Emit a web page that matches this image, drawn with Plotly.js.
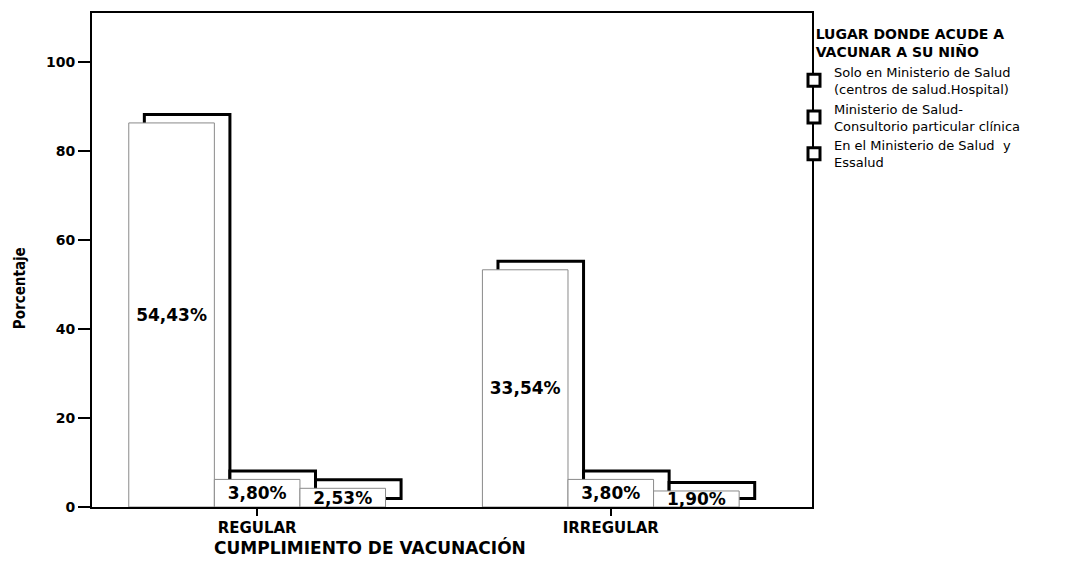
<!DOCTYPE html>
<html>
<head>
<meta charset="utf-8">
<script src="https://cdn.plot.ly/plotly-3.0.1.min.js"></script>
<style>
  html, body { margin: 0; padding: 0; background: #ffffff; }
  #chart { width: 1081px; height: 564px; }
</style>
</head>
<body>
<div id="chart"></div>
<script>
// ---- data ----
const categories = ['REGULAR', 'IRREGULAR'];
const seriesNames = [
  'Solo en Ministerio de Salud<br>(centros de salud.Hospital)',
  'Ministerio de Salud-<br>Consultorio particular clínica',
  'En el Ministerio de Salud  y<br>Essalud'
];
// bar heights (Porcentaje axis)
const soloMinsa       = [86.3, 53.3];
const minsaParticular = [6.2, 6.2];
const minsaEssalud    = [4.2, 3.6];
// percentage labels printed on the bars
const soloMinsaLabel       = [54.43, 33.54];
const minsaParticularLabel = [3.80, 3.80];
const minsaEssaludLabel    = [2.53, 1.90];
const yTicks = [0, 20, 40, 60, 80, 100];

const heights = [soloMinsa, minsaParticular, minsaEssalud];
const labels = [soloMinsaLabel, minsaParticularLabel, minsaEssaludLabel];

// ---- styling / geometry ----
const barW = 0.242;      // width of each bar in category units
const depthX = 0.044;    // 3-D depth offset (x, category units)
const depthY = 1.9;      // 3-D depth offset (y, axis units)
const boldFont = 'DejaVu Sans, Liberation Sans, Arial, sans-serif';

const traces = [];
// back (depth) faces with heavy outline
heights.forEach((h, i) => {
  traces.push({
    type: 'bar',
    x: categories,
    y: h,
    base: depthY,
    offset: -1.5 * barW + i * barW + depthX,
    width: barW,
    name: seriesNames[i],
    legendgroup: 'g' + i,
    showlegend: true,
    marker: { color: '#ffffff', line: { color: '#000000', width: 3 } },
    hoverinfo: 'skip'
  });
});
// front faces with the labels
heights.forEach((h, i) => {
  traces.push({
    type: 'bar',
    x: categories,
    y: h,
    customdata: labels[i],
    offset: -1.5 * barW + i * barW,
    width: barW,
    name: seriesNames[i],
    legendgroup: 'g' + i,
    showlegend: false,
    marker: { color: '#ffffff', line: { color: '#8a8a8a', width: 1 } },
    texttemplate: '%{customdata:.2f}%',
    textposition: 'inside',
    insidetextanchor: 'middle',
    textangle: 0,
    constraintext: 'none',
    insidetextfont: { family: boldFont, size: 17, color: '#000000', weight: 'bold' },
    hoverinfo: 'skip'
  });
});

const layout = {
  width: 1081,
  height: 564,
  paper_bgcolor: '#ffffff',
  plot_bgcolor: '#ffffff',
  separators: ',.',
  barmode: 'overlay',
  margin: { l: 92, r: 269, t: 13, b: 57, pad: 0 },
  showlegend: true,
  legend: {
    x: 0.975, xanchor: 'left',
    y: 0.985, yanchor: 'top',
    bgcolor: 'rgba(0,0,0,0)',
    traceorder: 'normal',
    tracegroupgap: 0,
    itemwidth: 30,
    font: { family: 'DejaVu Sans, Liberation Sans, Arial, sans-serif', size: 13, color: '#000000' },
    title: {
      text: 'LUGAR DONDE ACUDE A<br>VACUNAR A SU NIÑO',
      side: 'top center',
      font: { family: boldFont, size: 14, color: '#000000', weight: 'bold' }
    }
  },
  xaxis: {
    type: 'category',
    range: [-0.467, 1.569],
    showline: true, linecolor: '#000000', linewidth: 2, mirror: true,
    ticks: 'outside', ticklen: 7, tickwidth: 2, tickcolor: '#000000',
    ticklabelstandoff: -1,
    showgrid: false, zeroline: false,
    tickfont: { family: boldFont, size: 15, color: '#000000', weight: 'bold' },
    fixedrange: true
  },
  yaxis: {
    range: [0, 111],
    tickvals: yTicks,
    showline: true, linecolor: '#000000', linewidth: 2, mirror: true,
    ticks: 'outside', ticklen: 12, tickwidth: 2, tickcolor: '#000000',
    showgrid: false, zeroline: false,
    tickfont: { family: boldFont, size: 14, color: '#000000', weight: 'bold' },
    fixedrange: true
  },
  annotations: [
    {
      text: 'CUMPLIMIENTO DE VACUNACIÓN',
      xref: 'paper', yref: 'paper',
      x: 0.386, y: -0.082, xanchor: 'center', yanchor: 'middle',
      showarrow: false,
      font: { family: boldFont, size: 17, color: '#000000', weight: 'bold' }
    },
    {
      text: 'Porcentaje',
      xref: 'paper', yref: 'paper',
      x: -0.1, y: 0.443, xanchor: 'center', yanchor: 'middle',
      textangle: -90,
      showarrow: false,
      font: { family: 'DejaVu Sans Condensed, DejaVu Sans, sans-serif', size: 15, color: '#000000', weight: 'bold' }
    }
  ]
};

Plotly.newPlot('chart', traces, layout, { displayModeBar: false, staticPlot: true });
</script>
</body>
</html>
